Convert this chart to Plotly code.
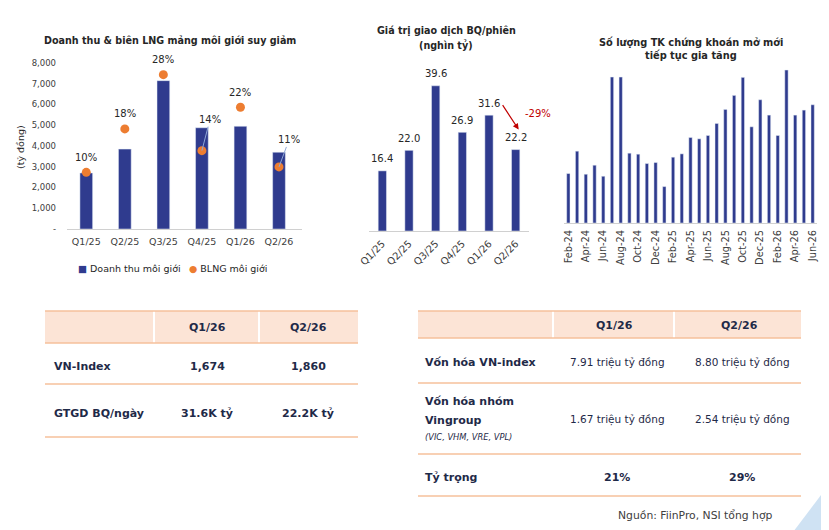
import plotly.graph_objects as go

W, H = 829, 530

# ---- chart 1: broker revenue (bn VND) and broker margin
quarters = ["Q1/25", "Q2/25", "Q3/25", "Q4/25", "Q1/26", "Q2/26"]
broker_revenue = [2700, 3850, 7150, 4880, 4950, 3700]
broker_margin = [0.10, 0.18, 0.28, 0.14, 0.22, 0.11]
rev_tickvals = [0, 1000, 2000, 3000, 4000, 5000, 6000, 7000, 8000]
rev_ticktext = ["-", "1,000", "2,000", "3,000", "4,000", "5,000", "6,000", "7,000", "8,000"]

# ---- chart 2: average trading value per session (thousand bn VND)
avg_trading_value = [16.4, 22.0, 39.6, 26.9, 31.6, 22.2]
trading_change = "-29%"

# ---- chart 3: new securities accounts (relative, no axis shown)
months = ["Feb-24", "Mar-24", "Apr-24", "May-24", "Jun-24", "Jul-24", "Aug-24",
          "Sep-24", "Oct-24", "Nov-24", "Dec-24", "Jan-25", "Feb-25", "Mar-25",
          "Apr-25", "May-25", "Jun-25", "Jul-25", "Aug-25", "Sep-25", "Oct-25",
          "Nov-25", "Dec-25", "Jan-26", "Feb-26", "Mar-26", "Apr-26", "May-26",
          "Jun-26"]
new_accounts = [148, 215, 146, 173, 140, 437, 437, 209, 206, 178, 181, 109, 197, 207,
                256, 252, 262, 298, 340, 382, 436, 288, 369, 323, 262, 458, 323, 338,
                354]

# ---- tables
t1_header = ["Q1/26", "Q2/26"]
t1_rows = ["VN-Index", "GTGD BQ/ngày"]
t1_q1 = ["1,674", "31.6K tỷ"]
t1_q2 = ["1,860", "22.2K tỷ"]

t2_header = ["Q1/26", "Q2/26"]
t2_rows = [["Vốn hóa VN-index"], ["Vốn hóa nhóm", "Vingroup"], ["Tỷ trọng"]]
t2_row_note = ["", "(VIC, VHM, VRE, VPL)", ""]
t2_q1 = ["7.91 triệu tỷ đồng", "1.67 triệu tỷ đồng", "21%"]
t2_q2 = ["8.80 triệu tỷ đồng", "2.54 triệu tỷ đồng", "29%"]
source = "Nguồn: FiinPro, NSI tổng hợp"

# colours / fonts
NAVY = "#2f3b8e"
ORANGE = "#ed7d31"
RED = "#c00000"
TXT = "#262626"
TBL = "#1f2a48"
LINE = "#f6c09b"
HEAD = "#fce4d6"
FONT = "DejaVu Sans"
OFF = 8  # page body margin of the exported html


def px(x):
    return (x - OFF) / W


def py(y):
    return 1 - (y - OFF) / H


fig = go.Figure()

# chart 1
fig.add_trace(go.Bar(x=quarters, y=broker_revenue, width=0.33, marker_color=NAVY,
                     xaxis="x", yaxis="y", showlegend=False))
fig.add_trace(go.Scatter(x=quarters, y=broker_margin, mode="markers",
                         marker=dict(color=ORANGE, size=9), xaxis="x", yaxis="y2",
                         showlegend=False))
# chart 2
fig.add_trace(go.Bar(x=quarters, y=avg_trading_value, width=0.31, marker_color=NAVY,
                     xaxis="x3", yaxis="y3", showlegend=False))
# chart 3
fig.add_trace(go.Bar(x=months, y=new_accounts, width=0.38, marker_color=NAVY,
                     xaxis="x4", yaxis="y4", showlegend=False))

ann = []

# margin labels
for i, (q, m) in enumerate(zip(quarters, broker_margin)):
    label = f"{round(m * 100)}%"
    if i in (3, 5):
        offs = {3: (8, -31), 5: (10, -27)}[i]
        ann.append(dict(x=q, y=m, xref="x", yref="y2", text=label, showarrow=True,
                        arrowhead=0, arrowwidth=1, arrowcolor="#8fa8d8",
                        ax=offs[0], ay=offs[1], font=dict(size=10, color=TXT)))
    else:
        ann.append(dict(x=q, y=m, xref="x", yref="y2", text=label, showarrow=False,
                        yshift=15, font=dict(size=10, color=TXT)))

# trading value labels
for q, v in zip(quarters, avg_trading_value):
    ann.append(dict(x=q, y=v, xref="x3", yref="y3", text=f"{v:.1f}", showarrow=False,
                    yshift=12, font=dict(size=10, color=TXT)))
ann.append(dict(x=quarters[-1], y=avg_trading_value[-1], xref="x3", yref="y3", text="",
                showarrow=True, arrowhead=2, arrowsize=1, arrowwidth=1.2,
                arrowcolor=RED, xshift=3, yshift=20, ax=-17, ay=-26))
ann.append(dict(x=px(523), y=py(113), text=trading_change, xanchor="left",
                font=dict(size=10, color=RED)))

# titles
ann += [
    dict(x=px(170), y=py(41), text="<b>Doanh thu & biên LNG mảng môi giới suy giảm</b>",
         font=dict(size=9.6, color=TXT)),
    dict(x=px(446), y=py(31), text="<b>Giá trị giao dịch BQ/phiên</b>", font=dict(size=9.6, color=TXT)),
    dict(x=px(446), y=py(45), text="<b>(nghìn tỷ)</b>", font=dict(size=9.6, color=TXT)),
    dict(x=px(691), y=py(42), text="<b>Số lượng TK chứng khoán mở mới</b>", font=dict(size=9.8, color=TXT)),
    dict(x=px(691), y=py(55), text="<b>tiếp tục gia tăng</b>", font=dict(size=9.8, color=TXT)),
    dict(x=px(20), y=py(147), text="(tỷ đồng)", textangle=-90, font=dict(size=9.5, color=TXT)),
    # legend
    dict(x=px(76), y=py(268), xanchor="left",
         text=f'<span style="color:{NAVY}">■</span> Doanh thu môi giới', font=dict(size=9.5, color=TXT)),
    dict(x=px(187), y=py(268), xanchor="left",
         text=f'<span style="color:{ORANGE}">●</span> BLNG môi giới', font=dict(size=9.5, color=TXT)),
]

shapes = []

# table 1
T1_X0, T1_X1 = 45, 358
T1_COLS = [207, 308]
T1_SEP = [154, 259]
T1_LINES = [311, 343, 384, 437]
T1_ROWY = [366, 413]
shapes.append(dict(type="rect", x0=px(T1_X0), x1=px(T1_X1), y0=py(311), y1=py(343),
                   fillcolor=HEAD, line_width=0, layer="below"))
for xs in T1_SEP:
    shapes.append(dict(type="line", x0=px(xs), x1=px(xs), y0=py(311), y1=py(343),
                       line=dict(color="white", width=2)))
for yl in T1_LINES:
    shapes.append(dict(type="line", x0=px(T1_X0), x1=px(T1_X1), y0=py(yl), y1=py(yl),
                       line=dict(color=LINE, width=1.5)))
for cx, h in zip(T1_COLS, t1_header):
    ann.append(dict(x=px(cx), y=py(327), text=f"<b>{h}</b>", font=dict(size=11, color=TBL)))
for ry, lab, a, b in zip(T1_ROWY, t1_rows, t1_q1, t1_q2):
    ann.append(dict(x=px(52), y=py(ry), xanchor="left", text=f"<b>{lab}</b>",
                    font=dict(size=11, color=TBL)))
    ann.append(dict(x=px(T1_COLS[0]), y=py(ry), text=f"<b>{a}</b>", font=dict(size=11, color=TBL)))
    ann.append(dict(x=px(T1_COLS[1]), y=py(ry), text=f"<b>{b}</b>", font=dict(size=11, color=TBL)))

# table 2
T2_X0, T2_X1 = 418, 801
T2_COLS = [617, 742]
T2_SEP = [553, 674]
T2_LINES = [311, 338, 383, 454, 496]
T2_ROWY = [362, 419, 477]
shapes.append(dict(type="rect", x0=px(T2_X0), x1=px(T2_X1), y0=py(311), y1=py(338),
                   fillcolor=HEAD, line_width=0, layer="below"))
for xs in T2_SEP:
    shapes.append(dict(type="line", x0=px(xs), x1=px(xs), y0=py(311), y1=py(338),
                       line=dict(color="white", width=2)))
for yl in T2_LINES:
    shapes.append(dict(type="line", x0=px(T2_X0), x1=px(T2_X1), y0=py(yl), y1=py(yl),
                       line=dict(color=LINE, width=1.5)))
for cx, h in zip(T2_COLS, t2_header):
    ann.append(dict(x=px(cx - 3), y=py(325), text=f"<b>{h}</b>", font=dict(size=11, color=TBL)))
for i, (ry, lines, note, a, b) in enumerate(zip(T2_ROWY, t2_rows, t2_row_note, t2_q1, t2_q2)):
    top = ry - 9 * (len(lines) - 1) - (8 if note else 0)
    for j, line in enumerate(lines):
        ann.append(dict(x=px(423), y=py(top + 18 * j), xanchor="left", text=f"<b>{line}</b>",
                        font=dict(size=11, color=TBL)))
    if note:
        ann.append(dict(x=px(423), y=py(top + 18 * len(lines) - 1), xanchor="left",
                        text=f"<i>{note}</i>", font=dict(size=8.3, color=TBL)))
    bold = a.endswith("%")
    for cx, v in zip(T2_COLS, (a, b)):
        ann.append(dict(x=px(cx), y=py(ry), text=f"<b>{v}</b>" if bold else v,
                        font=dict(size=11 if bold else 10.5, color=TBL)))

ann.append(dict(x=px(775), y=py(515), xanchor="right", text=source,
                font=dict(size=10.8, color="#404040")))

for a in ann:
    a.setdefault("xref", "paper")
    a.setdefault("yref", "paper")
    a.setdefault("showarrow", False)
    if not a["showarrow"]:
        a.setdefault("xanchor", "center")
        a.setdefault("yanchor", "middle")
    a.setdefault("font", {})["family"] = FONT

# decorative corner
shapes.append(dict(type="path", path=f"M {px(787)},{py(540)} L {px(840)},{py(470)} L {px(840)},{py(540)} Z",
                   fillcolor="#cfe2f3", line_width=0, layer="below"))
for s in shapes:
    s.setdefault("xref", "paper")
    s.setdefault("yref", "paper")

axis_common = dict(showgrid=False, zeroline=False, ticks="", automargin=False,
                   tickfont=dict(family=FONT, size=9.5, color="#404040"))

fig.update_layout(
    width=W, height=H,
    margin=dict(l=0, r=0, t=0, b=0, pad=0, autoexpand=False),
    paper_bgcolor="white", plot_bgcolor="rgba(0,0,0,0)",
    font=dict(family=FONT, color=TXT),
    showlegend=False,
    xaxis=dict(domain=[px(67), px(302)], anchor="y", type="category", ticklabelstandoff=4,
               showline=True, linecolor="#d0d0d0", **axis_common),
    yaxis=dict(domain=[py(229), py(63)], range=[0, 8000], tickvals=rev_tickvals,
               ticktext=rev_ticktext, showline=False, ticklabelstandoff=10,
               **{**axis_common, "tickfont": dict(family=FONT, size=8.5, color="#404040")}),
    yaxis2=dict(overlaying="y", range=[-0.0044, 0.3015], visible=False),
    xaxis3=dict(domain=[px(369), px(529)], anchor="y3", type="category", tickangle=-45,
                ticklabelstandoff=2, showline=True, linecolor="#d0d0d0",
                **{**axis_common, "tickfont": dict(family=FONT, size=10, color="#404040")}),
    yaxis3=dict(domain=[py(231), py(66)], range=[0, 45], visible=False),
    xaxis4=dict(domain=[px(564), px(817)], anchor="y4", type="category", tickangle=-90,
                tickvals=months[::2], ticktext=months[::2], showline=True,
                linecolor="#d0d0d0", ticklabelstandoff=2,
                **{**axis_common, "tickfont": dict(family=FONT, size=9.8, color="#404040")}),
    yaxis4=dict(domain=[py(223), py(62)], range=[0, 482], visible=False),
    annotations=ann,
    shapes=shapes,
)

fig.write_html("out.html")
